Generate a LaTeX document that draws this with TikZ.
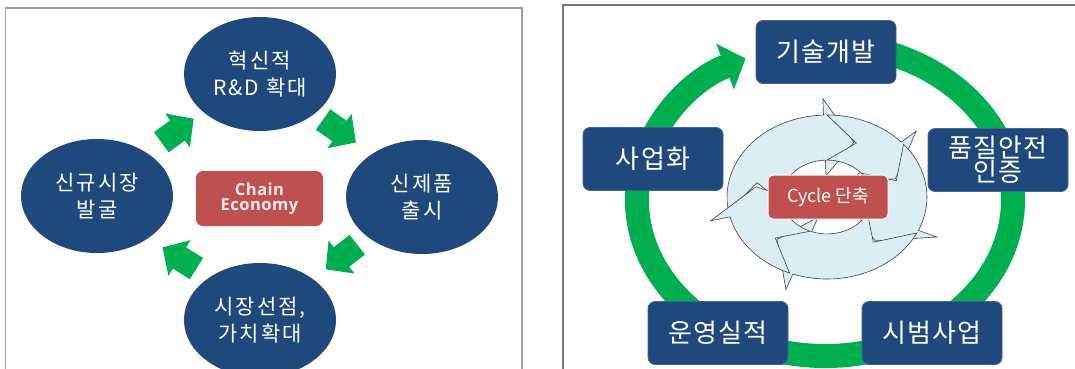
\documentclass[tikz,border=0pt]{standalone}
\usepackage{fontspec}
\usetikzlibrary{arrows.meta,shapes.geometric}
\newfontfamily\kr{Noto Sans CJK KR}
\newfontfamily\krsp[LetterSpace=10]{Noto Sans CJK KR}
\newfontfamily\krbox[LetterSpace=5]{Noto Sans CJK KR}
\newfontfamily\chainfont[LetterSpace=3]{Open Sans}
\definecolor{navy}{RGB}{31,73,125}
\definecolor{redbox}{RGB}{192,80,77}
\definecolor{grn}{RGB}{0,176,80}
\definecolor{cyc}{RGB}{219,238,244}
\definecolor{frameL}{RGB}{160,160,160}
\definecolor{frameR}{RGB}{120,120,120}
\definecolor{chaintext}{RGB}{252,236,236}
\tikzset{
  ell/.style={ellipse, fill=navy, minimum width=152pt, minimum height=114pt, inner sep=0pt,
    text=white, align=center, font=\krsp\fontsize{21}{27}\selectfont},
  navybox/.style={rectangle, rounded corners=7pt, fill=navy, draw=navy!85!white, line width=0.8pt,
    minimum width=140pt, minimum height=63pt, inner sep=0pt,
    text=white, align=center, font=\krbox\fontsize{26}{24}\selectfont},
  chainbox/.style={rectangle, rounded corners=7pt, fill=redbox, minimum width=127pt, minimum height=55pt,
    inner sep=0pt, text=chaintext, align=center, font=\chainfont\bfseries\fontsize{16.5}{15.5}\selectfont},
  cyclebox/.style={rectangle, rounded corners=5pt, fill=redbox, draw=white, line width=1pt,
    minimum width=120pt, minimum height=44pt, inner sep=0pt, text=white, font=\kr\fontsize{18}{20}\selectfont},
  cycstyle/.style={fill=cyc, draw=black!75, line width=0.6pt, line join=miter},
  blockarrow/.pic={\fill[grn] (-20,-12.5) -- (0,-12.5) -- (0,-21) -- (20,0) -- (0,21) -- (0,12.5) -- (-20,12.5) -- cycle;},
  frameline/.style={line width=1.2pt}
}
% #1 tail angle, #2 head base angle, #3 head tip angle
\newcommand\cycseg[3]{%
  \filldraw[cycstyle] (#1:100) arc[start angle=#1, end angle=#2, radius=100]
    -- (#2:120) -- (#3:72) -- (#2:26) -- (#2:45)
    arc[start angle=#2, end angle=#1, radius=45] -- ({#1-24}:72) -- cycle;}
\begin{document}
\begin{tikzpicture}[x=1pt,y=1pt]
\useasboundingbox (0,0) rectangle (1075,368);
\fill[white] (0,0) rectangle (1075,368);
\clip (0,0) rectangle (1075,368);

% ---------- left panel ----------
\draw[frameL, frameline] (5.5,-2) -- (5.5,360) -- (522,360) -- (522,-2);

\node[ell] (rnd) at (260,294) {혁신적\\R\&D 확대};
\node[ell] (launch) at (422,171) {신제품\\출시};
\node[ell] (market) at (260,48) {시장선점,\\가치확대};
\node[ell] (newmkt) at (97,172) {신규시장\\발굴};
\node[chainbox] (chain) at (259.5,169.5) {Chain\\Economy};

\pic[rotate=36] at (177.5,237.5) {blockarrow};
\pic[rotate=-35] at (339.5,237) {blockarrow};
\pic[rotate=-142] at (341.5,111) {blockarrow};
\pic[rotate=148] at (179.5,110) {blockarrow};

% ---------- right panel ----------
\draw[frameR, frameline] (563,-2) -- (563,363) -- (1077,363);

\draw[grn, line width=24pt, -{Triangle[length=22pt,width=48pt]}]
  ([shift={(80:188 and 156)}]825,168) arc[start angle=80, end angle=-245, x radius=188, y radius=156];

\node[navybox] (tech) at (826,316) {기술개발};
\node[navybox] (cert) at (998,208) {품질안전\\인증};
\node[navybox] (pilot) at (932,35) {시범사업};
\node[navybox] (ops) at (718,35) {운영실적};
\node[navybox] (biz) at (653,209) {사업화};

\begin{scope}[shift={(827,171)}, yscale=0.82]
  \cycseg{190}{92}{68}
  \cycseg{90}{42}{18}
  \cycseg{40}{-24}{-48}
  \cycseg{-26}{-110}{-134}
  \cycseg{-112}{-166}{-190}
\end{scope}

\node[cyclebox] (cycle) at (828,171) {Cycle 단축};
\end{tikzpicture}
\end{document}
